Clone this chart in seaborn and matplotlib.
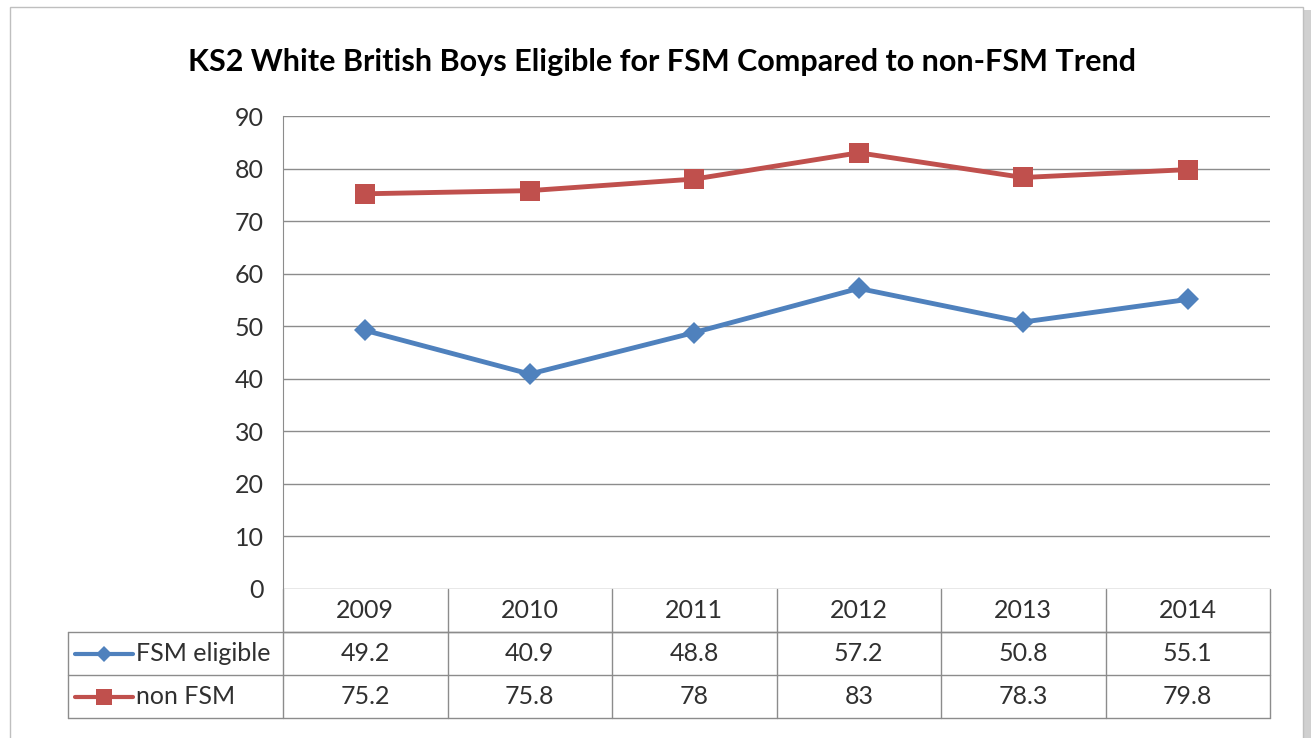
import pandas as pd
import seaborn as sns
import matplotlib.pyplot as plt
from matplotlib.lines import Line2D
from matplotlib.patches import Rectangle
import matplotlib.transforms as mtransforms

# Chart data
years = ["2009", "2010", "2011", "2012", "2013", "2014"]
fsm_eligible = [49.2, 40.9, 48.8, 57.2, 50.8, 55.1]
non_fsm = [75.2, 75.8, 78, 83, 78.3, 79.8]
series_names = ["FSM eligible", "non FSM"]
table_text = {"FSM eligible": ["49.2", "40.9", "48.8", "57.2", "50.8", "55.1"],
              "non FSM": ["75.2", "75.8", "78", "83", "78.3", "79.8"]}

BLUE = "#4F81BD"
RED = "#C0504D"
GRID = "#8C8C8C"
TEXT = "#303030"

df = pd.DataFrame({
    "year": years * 2,
    "value": fsm_eligible + non_fsm,
    "series": [series_names[0]] * len(years) + [series_names[1]] * len(years),
})

sns.set_style("white")
plt.rcParams["font.family"] = ["Lato", "DejaVu Sans"]

W, H = 1313, 738
fig = plt.figure(figsize=(W / 100, H / 100), dpi=100)

# outer chart frame with a soft shadow
fig.patches.append(Rectangle((14 / W, 0), (1297 / W), (1 - 10 / H), transform=fig.transFigure,
                             facecolor="#d0d0d0", edgecolor="none", zorder=0))
fig.patches.append(Rectangle((10 / W, -0.01), (1293 / W), (1 - 7 / H + 0.01), transform=fig.transFigure,
                             facecolor="white", edgecolor="#bfbfbf", lw=1, zorder=1))

left, right, top, bottom = 283, 1270, 116, 589
ax = fig.add_axes([left / W, 1 - bottom / H, (right - left) / W, (bottom - top) / H])
ax.set_zorder(2)
ax.patch.set_alpha(0)

sns.lineplot(data=df, x="year", y="value", hue="series", style="series",
             palette={series_names[0]: BLUE, series_names[1]: RED},
             markers={series_names[0]: "D", series_names[1]: "s"},
             dashes=False, markersize=12, linewidth=3.5, markeredgewidth=0,
             legend=False, ax=ax, sort=False)
# make the square bigger than the diamond
for line in ax.get_lines():
    if line.get_color() == RED:
        line.set_markersize(15)
    else:
        line.set_markersize(11)

ax.set_xlim(-0.5, len(years) - 0.5)
ax.set_ylim(0, 90)
ax.set_yticks(range(0, 91, 10))
ax.set_xticks([])
ax.set_xlabel("")
ax.set_ylabel("")
ax.grid(axis="y", color=GRID, lw=1)
ax.set_axisbelow(True)
for s in ["top", "right", "bottom"]:
    ax.spines[s].set_visible(False)
ax.spines["left"].set_color(GRID)
ax.tick_params(axis="y", length=8, color=GRID, labelsize=18, labelcolor=TEXT, pad=6)

fig.text(0.5 * (183 + 1140) / W, 1 - 62 / H,
         "KS2 White British Boys Eligible for FSM Compared to non-FSM Trend",
         ha="center", va="center", fontsize=22, fontweight="bold", color="black")

# data table under the axis
row_h = 43 / (bottom - top)
trans = mtransforms.blended_transform_factory(ax.transData, ax.transAxes)
n = len(years)
line_kw = dict(color=GRID, lw=1, clip_on=False)
x_left_ax = (68 - left) / (right - left)
ax.plot([-0.5, n - 0.5], [-row_h, -row_h], transform=trans, **line_kw)
for k in (1, 2, 3):
    ax.plot([x_left_ax, 1], [-k * row_h, -k * row_h], transform=ax.transAxes, **line_kw)
ax.plot([x_left_ax, x_left_ax], [-row_h, -3 * row_h], transform=ax.transAxes, **line_kw)
for i in range(n + 1):
    ax.plot([i - 0.5, i - 0.5], [0, -3 * row_h], transform=trans, **line_kw)

fs = 18
for i, yr in enumerate(years):
    ax.text(i, -0.5 * row_h, yr, transform=trans, ha="center", va="center",
            fontsize=fs, color=TEXT)
for r, name in enumerate(series_names):
    yc = -(1.5 + r) * row_h
    for i, val in enumerate(table_text[name]):
        ax.text(i, yc, val, transform=trans, ha="center", va="center",
                fontsize=fs, color=TEXT)
    color = BLUE if r == 0 else RED
    marker = "D" if r == 0 else "s"
    ms = 8 if r == 0 else 11
    x0 = (75 - left) / (right - left)
    x1 = (133 - left) / (right - left)
    ax.add_line(Line2D([x0, x1], [yc, yc], transform=ax.transAxes, color=color,
                       lw=3, clip_on=False))
    ax.add_line(Line2D([(x0 + x1) / 2], [yc], transform=ax.transAxes, color=color,
                       marker=marker, markersize=ms, markeredgewidth=0, clip_on=False))
    ax.text((136 - left) / (right - left), yc, name, transform=ax.transAxes,
            ha="left", va="center", fontsize=fs, color=TEXT)

fig.savefig("out.png", dpi=100)
